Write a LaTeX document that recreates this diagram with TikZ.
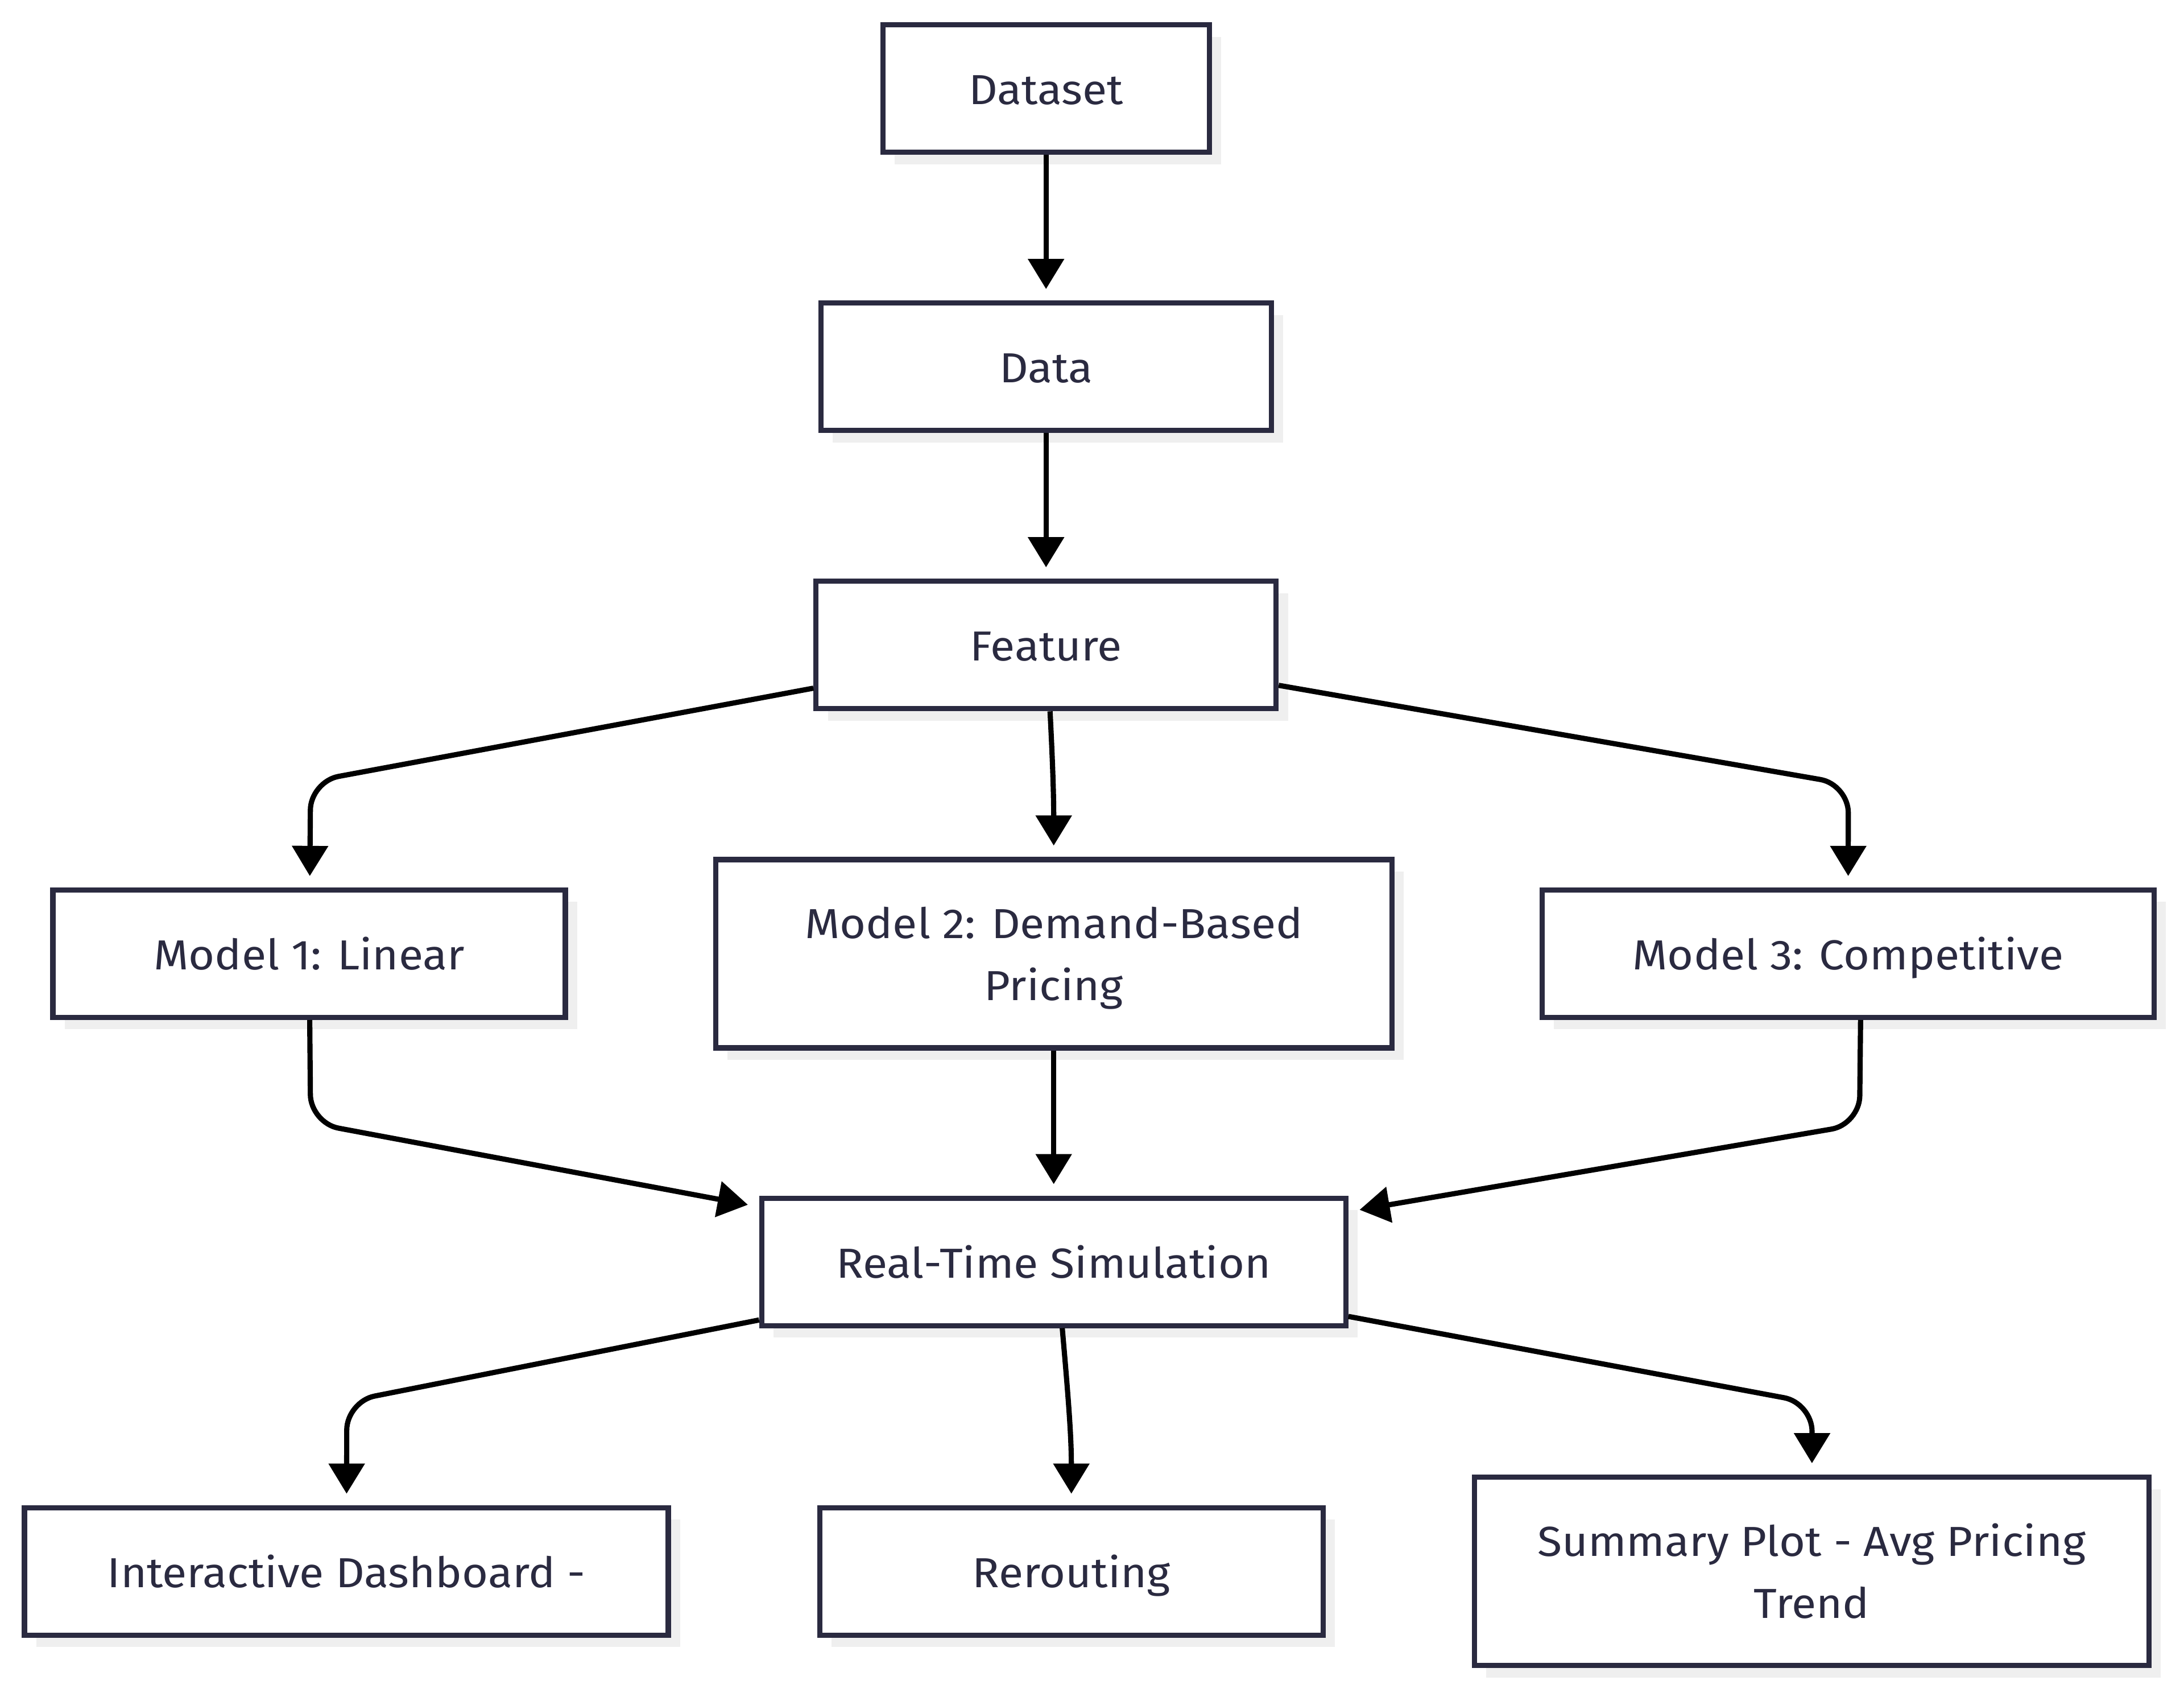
\documentclass[tikz,border=0pt]{standalone}
\usepackage{fontspec}
\setmainfont{Fira Sans}[FakeStretch=1.07]
\usetikzlibrary{arrows.meta, positioning, shadows}
\definecolor{inkcol}{HTML}{2A2A40}
\definecolor{shadecol}{HTML}{EFEFEF}

\begin{document}
\begin{tikzpicture}[
			x=0.02449cm, y=-0.02449cm,
			node distance=2.56cm,
			box/.style={rectangle, draw=inkcol, line width=2.6pt, fill=white, text=inkcol, minimum height=2.24cm, align=center, font=\fontsize{21}{31}\selectfont, execute at begin node={\rule{0pt}{23.45pt}}, execute at end node={\rule[-7.55pt]{0pt}{7.55pt}}, drop shadow={shadow xshift=0.21cm, shadow yshift=-0.21cm, fill=shadecol, opacity=1}},
			tallbox/.style={box, minimum height=3.31cm, execute at begin node={\rule{0pt}{54.45pt}}},
			link/.style={-{Triangle[length=0.53cm, width=0.62cm]}, line width=2.6pt, shorten >=0.2cm, rounded corners=0.5cm}
			]
			\useasboundingbox (0,0) rectangle (1568,1218);
			\node[box, minimum width=5.74cm] (dataset) at (751,63.5) {Dataset};
			\node[box, minimum width=7.92cm, below=of dataset] (data) {Data};
			\node[box, minimum width=8.09cm, below=of data] (feature) {Feature};
			\node[tallbox, minimum width=11.89cm, below=of feature, xshift=0.135cm] (model2) {Model 2: Demand-Based\\Pricing};
			\node[box, minimum width=9.01cm, left=2.55cm of model2] (model1) {Model 1: Linear};
			\node[box, minimum width=10.76cm, right=2.55cm of model2] (model3) {Model 3: Competitive};
			\node[box, minimum width=10.27cm, below=2.55cm of model2] (sim) {Real-Time Simulation};
			\node[box, minimum width=8.85cm, below=3.11cm of sim, xshift=0.31cm] (reroute) {Rerouting};
			\node[box, minimum width=11.32cm, left=2.57cm of reroute] (dash) {Interactive Dashboard -};
			\node[tallbox, minimum width=11.86cm, right=2.57cm of reroute] (summary) {Summary Plot - Avg Pricing\\Trend};
			\coordinate (bendA) at (223,561);
			\coordinate (bendB) at (1327,563);
			\coordinate (bendC) at (223,806);
			\coordinate (bendD) at (1335,807);
			\coordinate (bendE) at (249,1006);
			\coordinate (bendF) at (1301,1007);
			\draw[link] (dataset) -- (data);
			\draw[link] (data) -- (feature);
			\draw[link] (feature) -- (bendA) -- (model1);
			\draw[link] ([xshift=0.07cm]feature.south) to[out=-87, in=90] (model2.north);
			\draw[link] (feature) -- (bendB) -- (model3);
			\draw[link] (model1) -- (bendC) -- (sim);
			\draw[link] (model2) -- (sim);
			\draw[link] ([xshift=0.22cm]model3.south) -- (bendD) -- (sim);
			\draw[link] (sim) -- (bendE) -- (dash);
			\draw[link] ([xshift=0.15cm]sim.south) to[out=-85, in=90] (reroute.north);
			\draw[link] (sim) -- (bendF) -- (summary);
		\end{tikzpicture}
\end{document}
